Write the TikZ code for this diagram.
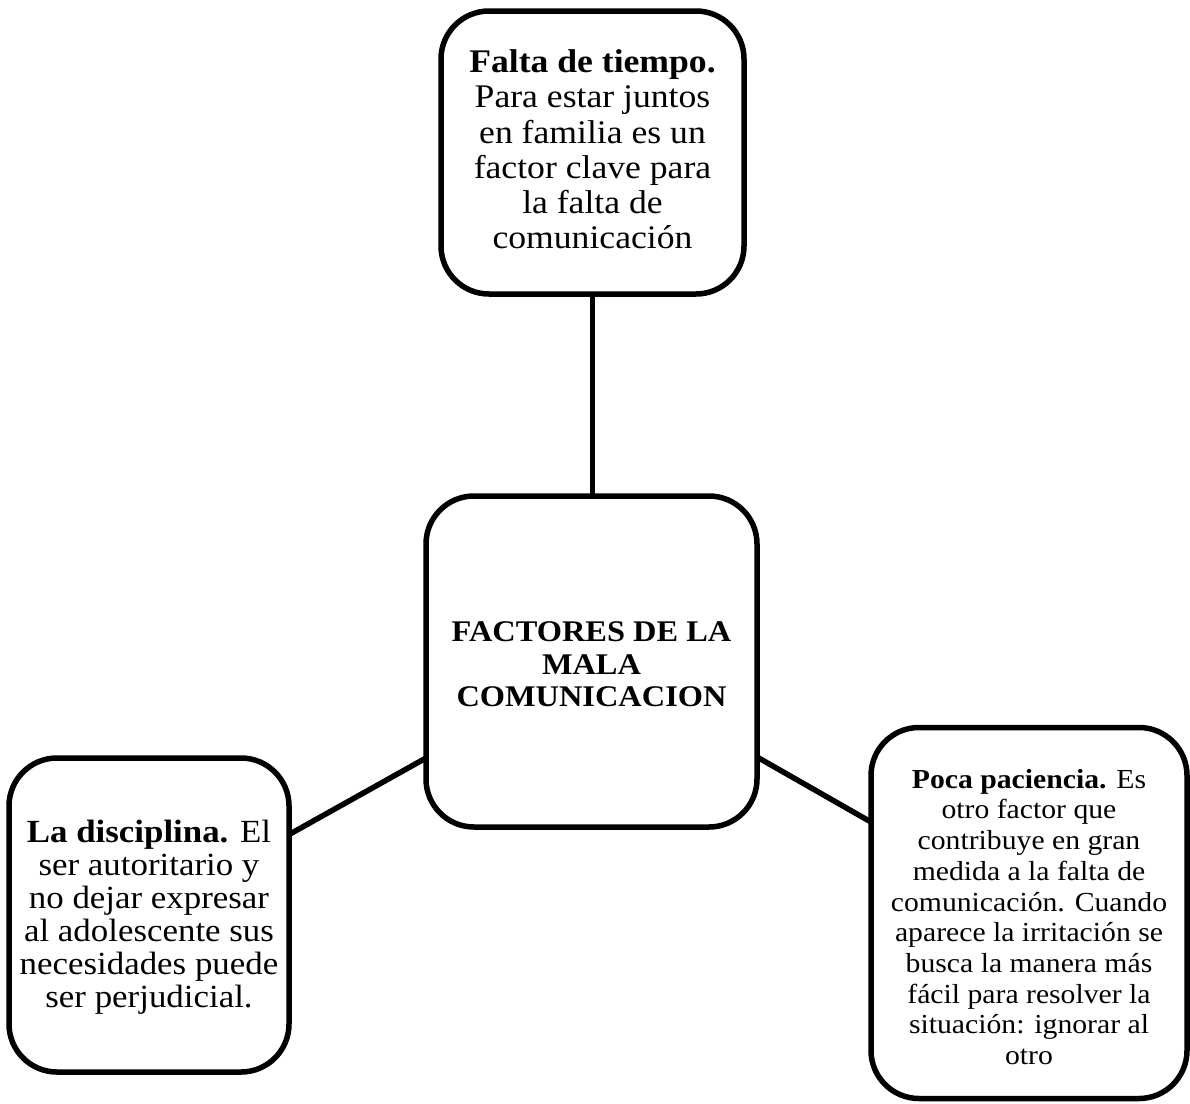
\documentclass[tikz,border=0pt]{standalone}
\usepackage{fontspec}
\setmainfont[FakeStretch=1.08]{Liberation Serif}
\begin{document}
\begin{tikzpicture}[x=1pt,y=-1pt,
  box/.style={draw=black,line width=5.5pt,rounded corners=48pt,fill=white,inner sep=0pt},
  txt/.style={align=center,inner sep=0pt},
  conn/.style={draw=black,line width=5.5pt}]
\useasboundingbox (0,0) rectangle (1190,1103);
% boxes
\node[box,minimum width=303pt,minimum height=283pt] (top) at (592.5,152.5) {};
\node[box,minimum width=331pt,minimum height=331pt] (mid) at (591.5,661.5) {};
\node[box,minimum width=280pt,minimum height=314pt] (left) at (149,915) {};
\node[box,minimum width=316pt,minimum height=371pt] (right) at (1029,913) {};
% connectors
\coordinate (tb) at (592.5,294);
\coordinate (mt) at (592.5,497);
\coordinate (lr) at (290,834);
\coordinate (ml) at (426,758);
\coordinate (mr) at (757,757);
\coordinate (rl) at (871,822);
\draw[conn] (tb) -- (mt);
\draw[conn] (lr) -- (ml);
\draw[conn] (mr) -- (rl);
% texts
\node[txt,font=\fontsize{33}{35.2}\selectfont] (toptxt) at (top.center) [yshift=3pt] {\textbf{Falta de tiempo.}\\Para estar juntos\\en familia es un\\factor clave para\\la falta de\\comunicación};
\node[txt,font=\bfseries\fontsize{30}{32.5}\selectfont] (midtxt) at (mid.center) [yshift=-3pt] {FACTORES DE LA\\MALA\\COMUNICACION};
\node[txt,font=\fontsize{32.3}{33}\selectfont] (lefttxt) at (left.center) [yshift=-2pt] {\textbf{La disciplina.} El\\ser autoritario y\\no dejar expresar\\al adolescente sus\\necesidades puede\\ser perjudicial.};
\node[txt,font=\fontsize{27.5}{30.7}\selectfont] (righttxt) at (right.center) [yshift=-4pt] {\textbf{Poca paciencia.} Es\\otro factor que\\contribuye en gran\\medida a la falta de\\comunicación. Cuando\\aparece la irritación se\\busca la manera más\\fácil para resolver la\\situación: ignorar al\\otro};
\end{tikzpicture}
\end{document}
